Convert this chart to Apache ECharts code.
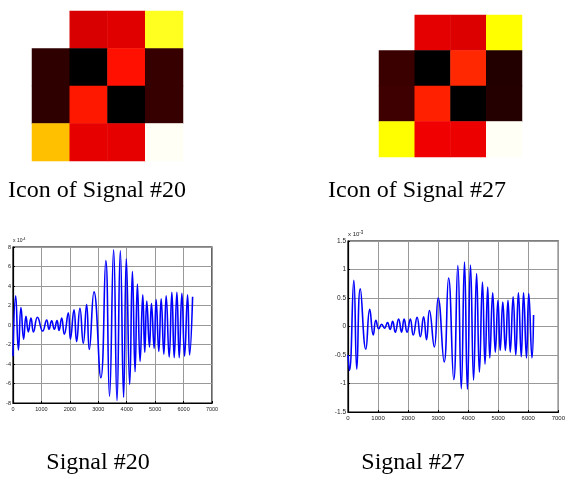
<!DOCTYPE html>
<html>
<head>
<meta charset="utf-8">
<script src="https://cdn.jsdelivr.net/npm/echarts@6.0.0/dist/echarts.min.js"></script>
<style>
  html, body { margin: 0; padding: 0; background: #fff; }
  #main { width: 568px; height: 478px; }
</style>
</head>
<body>
<div id="main"></div>
<script>
// icon cells, top row first, value on matlab "hot" scale 0..1, null = empty cell
const icon20 = [
  [null, 0.318, 0.329, 0.781],
  [0.068, 0, 0.399, 0.079],
  [0.068, 0.410, 0, 0.079],
  [0.657, 0.338, 0.338, 0.991]
];
const icon27 = [
  [null, 0.335, 0.324, 0.75],
  [0.085, 0, 0.434, 0.05],
  [0.091, 0.422, 0, 0.053],
  [0.75, 0.353, 0.347, 0.991]
];

// signal #20, peaks and troughs (y in units of 1e-4)
const sig20X = [0, 95, 190, 281, 374, 457, 539, 633, 720, 860, 1045, 1185, 1266, 1360, 1454, 1547, 1620, 1712, 1806, 1945,
  2020, 2145, 2238, 2355, 2472, 2590, 2683, 2849, 3090, 3265, 3395, 3540, 3658, 3775, 3891, 3986, 4105, 4200, 4294, 4376,
  4470, 4565, 4635, 4706, 4800, 4870, 4965, 5035, 5129, 5212, 5306, 5388, 5494, 5588, 5670, 5765, 5847, 5941, 6035, 6141,
  6212, 6318];
const sig20Y = [-3.2, 3.0, -2.55, 1.8, -1.45, 0.88, -0.7, 0.72, -0.7, 0.8, -0.62, 0.52, -0.44, 0.42, -0.42, 0.45, -0.55, 0.72, -0.95, 1.26,
  -1.45, 1.55, -1.7, 1.72, -1.87, 2.1, -2.5, 3.4, -5.4, 6.6, -7.3, 7.7, -7.75, 7.6, -7.4, 6.8, -6.1, 5.5, -4.8, 4.2,
  -3.75, 3.1, -2.8, 2.45, -2.25, 2.2, -2.4, 2.6, -2.7, 2.7, -3.0, 3.0, -3.3, 3.35, -3.35, 3.35, -3.35, 3.25, -3.2, 3.1,
  -3.06, 2.9];

// signal #27 (y in units of 1e-3)
const sig27X = [0, 50, 194, 292, 409, 593, 723, 842, 928, 1025, 1121, 1216, 1315, 1400, 1487, 1573, 1685, 1782, 1868, 1966,
  2074, 2171, 2300, 2408, 2516, 2613, 2710, 2873, 3002, 3200, 3348, 3520, 3655, 3770, 3877, 3974, 4077, 4180, 4280, 4373,
  4475, 4560, 4650, 4719, 4816, 4903, 4990, 5065, 5152, 5238, 5325, 5400, 5496, 5584, 5671, 5767, 5843, 5940, 6016, 6124,
  6176];
const sig27Y = [-0.5, -0.77, 0.81, -0.75, 0.66, -0.4, 0.3, -0.15, 0.11, -0.04, 0.04, -0.03, 0.07, -0.05, 0.09, -0.1, 0.13, -0.1, 0.13, -0.1,
  0.13, -0.15, 0.16, -0.18, 0.17, -0.23, 0.28, -0.36, 0.5, -0.62, 0.85, -0.93, 1.07, -1.09, 1.13, -1.1, 1.08, -0.94, 0.93, -0.8,
  0.78, -0.66, 0.69, -0.55, 0.59, -0.45, 0.46, -0.42, 0.43, -0.42, 0.46, -0.45, 0.52, -0.5, 0.59, -0.53, 0.59, -0.55, 0.58, -0.55,
  0.2];

const xTicks = [0, 7000, 1000];        // min, max, step
const y20Ticks = [-8, 8, 2];
const y27Ticks = [-1.5, 1.5, 0.5];
const captions = ['Icon of Signal #20', 'Icon of Signal #27', 'Signal #20', 'Signal #27'];

const hot = ['#000000', '#550000', '#aa0000', '#ff0000', '#ff5500', '#ffaa00', '#ffff00', '#ffff80', '#ffffff'];

function cells(rows) {
    const out = [];
    rows.forEach((row, r) => {
        row.forEach((v, c) => {
            if (v !== null) out.push([c, r, v]);
        });
    });
    return out;
}

function pairs(xs, ys) {
    return xs.map((x, i) => [x, ys[i]]);
}

const idx = ['0', '1', '2', '3'];

function lineX(gi, fs) {
    return {
        type: 'value', gridIndex: gi, min: xTicks[0], max: xTicks[1], interval: xTicks[2],
        axisLine: { onZero: false, lineStyle: { color: '#000', width: 1.2 } },
        axisTick: { inside: true, length: 2, lineStyle: { color: '#000' } },
        axisLabel: { fontSize: fs, color: '#222', margin: 3, fontFamily: 'Liberation Sans', formatter: v => String(v) },
        splitLine: { show: true, lineStyle: { color: '#999', width: 1 } }
    };
}

function lineY(gi, t, fs, exp) {
    return {
        type: 'value', gridIndex: gi, min: t[0], max: t[1], interval: t[2],
        name: '{a|x 10}{b|' + exp + '}',
        nameLocation: 'end', nameGap: 2,
        nameTextStyle: {
            align: 'left', verticalAlign: 'bottom',
            rich: {
                a: { fontSize: fs - 0.5, color: '#222', fontFamily: 'Liberation Sans' },
                b: { fontSize: fs - 2, color: '#222', fontFamily: 'Liberation Sans', verticalAlign: 'top', padding: [0, 0, 4, 0] }
            }
        },
        axisLine: { show: true, onZero: false, lineStyle: { color: '#000', width: 1.2 } },
        axisTick: { show: true, inside: true, length: 2, lineStyle: { color: '#000' } },
        axisLabel: { fontSize: fs, color: '#222', margin: 2, fontFamily: 'Liberation Sans' },
        splitLine: { show: true, lineStyle: { color: '#999', width: 1 } }
    };
}

const chart = echarts.init(document.getElementById('main'));
const option = {
    animation: false,
    backgroundColor: '#fff',
    grid: [
        { left: 32, top: 11, width: 151, height: 150 },
        { left: 379, top: 15, width: 143, height: 142 },
        { left: 13, top: 247, width: 199, height: 156, show: true, borderColor: '#000', borderWidth: 1.2 },
        { left: 348, top: 241, width: 216, height: 171, show: true, borderColor: '#000', borderWidth: 1.2 }
    ],
    xAxis: [
        { type: 'category', gridIndex: 0, data: idx, show: false },
        { type: 'category', gridIndex: 1, data: idx, show: false },
        lineX(2, 5.5),
        lineX(3, 6)
    ],
    yAxis: [
        { type: 'category', gridIndex: 0, data: idx, show: false, inverse: true },
        { type: 'category', gridIndex: 1, data: idx, show: false, inverse: true },
        lineY(2, y20Ticks, 5.5, '-4'),
        lineY(3, y27Ticks, 6.5, '-3')
    ],
    visualMap: {
        show: false, type: 'continuous', min: 0, max: 1, seriesIndex: [0, 1],
        inRange: { color: hot }
    },
    series: [
        { type: 'heatmap', xAxisIndex: 0, yAxisIndex: 0, data: cells(icon20) },
        { type: 'heatmap', xAxisIndex: 1, yAxisIndex: 1, data: cells(icon27) },
        {
            type: 'line', xAxisIndex: 2, yAxisIndex: 2, data: pairs(sig20X, sig20Y),
            showSymbol: false, smooth: 0.5, lineStyle: { color: '#0000ff', width: 1.6 }
        },
        {
            type: 'line', xAxisIndex: 3, yAxisIndex: 3, data: pairs(sig27X, sig27Y),
            showSymbol: false, smooth: 0.5, lineStyle: { color: '#0000ff', width: 1.6 }
        }
    ],
    graphic: [
        [97, 191], [417, 191], [98, 463], [413, 463]
    ].map((p, i) => ({
        type: 'text', x: p[0], y: p[1],
        style: {
            text: captions[i], fill: '#000', font: '24px "Liberation Serif"',
            textAlign: 'center', textVerticalAlign: 'middle'
        }
    }))
};
chart.setOption(option);
</script>
</body>
</html>
